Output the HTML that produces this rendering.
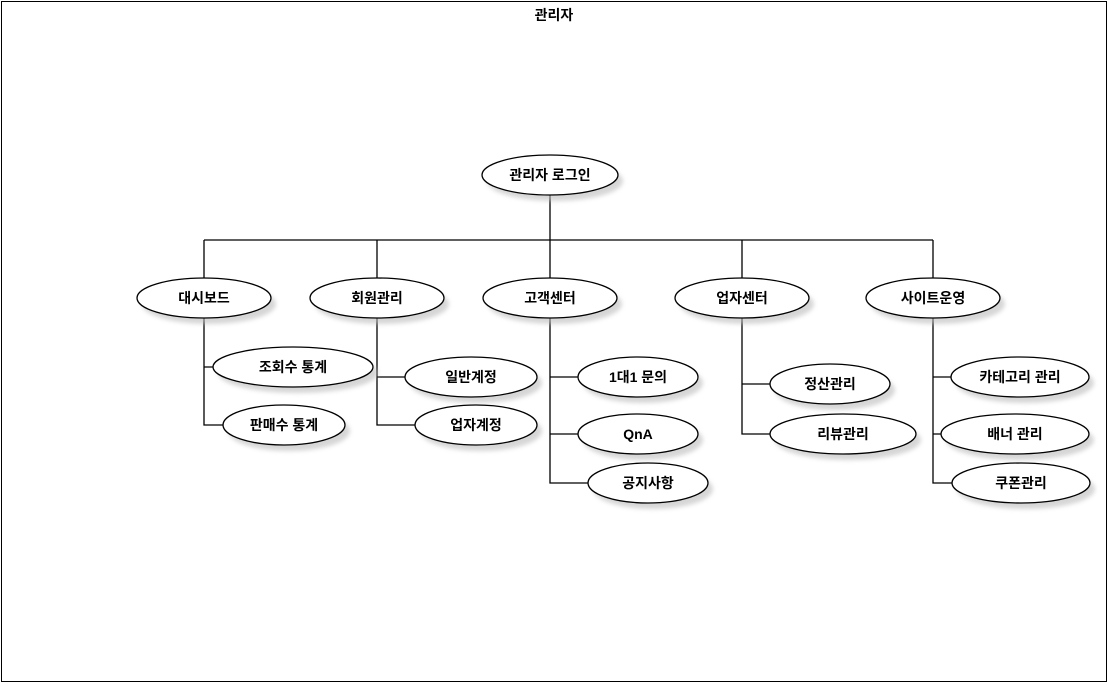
<!DOCTYPE html>
<html><head><meta charset="utf-8"><style>
html,body{margin:0;padding:0;background:#fff;}
svg text{font-family:"Liberation Sans","Noto Sans CJK KR","NanumGothic",sans-serif;font-weight:bold;font-size:14px;fill:#000;}
</style></head><body>
<svg width="1108" height="683" viewBox="0 0 1108 683" xmlns="http://www.w3.org/2000/svg">
<defs><filter id="s" x="-20%" y="-30%" width="150%" height="180%"><feGaussianBlur stdDeviation="2"/></filter></defs>
<rect x="1.5" y="1.5" width="1105" height="680" fill="#fff" stroke="#000" stroke-width="1"/>
<text x="554" y="20" text-anchor="middle">관리자</text>
<g stroke="#000" stroke-width="1.3" fill="none">
<path d="M550 195V240M204 240H933M204 240V278M377 240V278M550 240V278M742 240V278M933 240V278"/>
<path d="M204 318V425H223M204 367H213"/>
<path d="M377 318V425H415M377 377H405"/>
<path d="M550 318V483H588M550 377H578M550 434H578"/>
<path d="M742 318V434H770M742 384H770"/>
<path d="M933 318V483H952M933 377H951M933 434H941"/>
</g>
<g fill="#bbb" opacity="0.6" filter="url(#s)">
<ellipse cx="555" cy="181" rx="68" ry="20"/>
<ellipse cx="209" cy="304" rx="67" ry="20"/>
<ellipse cx="382" cy="304" rx="67" ry="20"/>
<ellipse cx="555" cy="304" rx="67" ry="20"/>
<ellipse cx="747" cy="304" rx="67" ry="20"/>
<ellipse cx="938" cy="304" rx="67" ry="20"/>
<ellipse cx="298" cy="373" rx="80" ry="20"/>
<ellipse cx="289" cy="431" rx="61" ry="20"/>
<ellipse cx="476" cy="383" rx="66" ry="20"/>
<ellipse cx="481" cy="431" rx="61" ry="20"/>
<ellipse cx="643" cy="383" rx="60" ry="20"/>
<ellipse cx="643" cy="440" rx="60" ry="20"/>
<ellipse cx="653" cy="489" rx="60" ry="20"/>
<ellipse cx="835" cy="390" rx="60" ry="20"/>
<ellipse cx="848" cy="440" rx="73" ry="20"/>
<ellipse cx="1025" cy="383" rx="69" ry="20"/>
<ellipse cx="1020" cy="440" rx="74" ry="20"/>
<ellipse cx="1026" cy="489" rx="69" ry="20"/>
</g>
<g fill="#fff" stroke="#000" stroke-width="1.3">
<ellipse cx="550" cy="175" rx="68" ry="20"/>
<ellipse cx="204" cy="298" rx="67" ry="20"/>
<ellipse cx="377" cy="298" rx="67" ry="20"/>
<ellipse cx="550" cy="298" rx="67" ry="20"/>
<ellipse cx="742" cy="298" rx="67" ry="20"/>
<ellipse cx="933" cy="298" rx="67" ry="20"/>
<ellipse cx="293" cy="367" rx="80" ry="20"/>
<ellipse cx="284" cy="425" rx="61" ry="20"/>
<ellipse cx="471" cy="377" rx="66" ry="20"/>
<ellipse cx="476" cy="425" rx="61" ry="20"/>
<ellipse cx="638" cy="377" rx="60" ry="20"/>
<ellipse cx="638" cy="434" rx="60" ry="20"/>
<ellipse cx="648" cy="483" rx="60" ry="20"/>
<ellipse cx="830" cy="384" rx="60" ry="20"/>
<ellipse cx="843" cy="434" rx="73" ry="20"/>
<ellipse cx="1020" cy="377" rx="69" ry="20"/>
<ellipse cx="1015" cy="434" rx="74" ry="20"/>
<ellipse cx="1021" cy="483" rx="69" ry="20"/>
</g>
<g text-anchor="middle">
<text x="550" y="180">관리자 로그인</text>
<text x="204" y="303">대시보드</text>
<text x="377" y="303">회원관리</text>
<text x="550" y="303">고객센터</text>
<text x="742" y="303">업자센터</text>
<text x="933" y="303">사이트운영</text>
<text x="293" y="372">조회수 통계</text>
<text x="284" y="430">판매수 통계</text>
<text x="471" y="382">일반계정</text>
<text x="476" y="430">업자계정</text>
<text x="638" y="382">1대1 문의</text>
<text x="638" y="439">QnA</text>
<text x="648" y="488">공지사항</text>
<text x="830" y="389">정산관리</text>
<text x="843" y="439">리뷰관리</text>
<text x="1020" y="382">카테고리 관리</text>
<text x="1015" y="439">배너 관리</text>
<text x="1021" y="488">쿠폰관리</text>
</g>
</svg>
</body></html>
